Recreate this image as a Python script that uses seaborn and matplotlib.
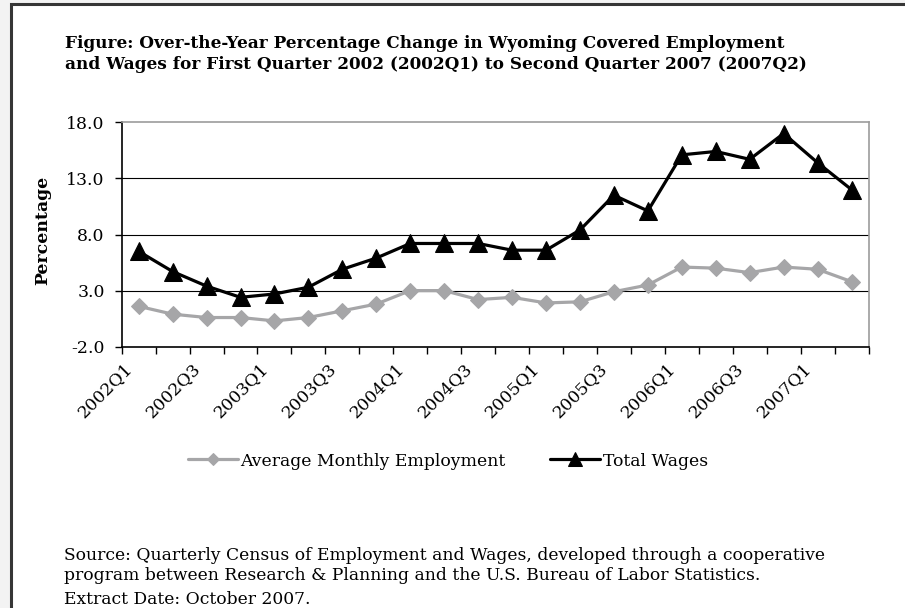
import matplotlib
matplotlib.use("Agg")
import matplotlib.pyplot as plt
import matplotlib.transforms as mtrans
import seaborn as sns
import numpy as np
import pandas as pd
from matplotlib.patches import Rectangle
from matplotlib.ticker import FixedLocator, FormatStrFormatter

quarters = ["2002Q1", "2002Q2", "2002Q3", "2002Q4", "2003Q1", "2003Q2", "2003Q3", "2003Q4",
            "2004Q1", "2004Q2", "2004Q3", "2004Q4", "2005Q1", "2005Q2", "2005Q3", "2005Q4",
            "2006Q1", "2006Q2", "2006Q3", "2006Q4", "2007Q1", "2007Q2"]
employment = [1.6, 0.9, 0.6, 0.6, 0.3, 0.6, 1.2, 1.8, 3.0, 3.0, 2.2, 2.4, 1.9, 2.0, 2.9, 3.5,
              5.1, 5.0, 4.6, 5.1, 4.9, 3.8]
wages = [6.5, 4.7, 3.4, 2.4, 2.7, 3.3, 4.9, 5.9, 7.2, 7.2, 7.2, 6.6, 6.6, 8.4, 11.5, 10.1,
         15.1, 15.4, 14.7, 17.0, 14.4, 12.0]
yticks = [-2.0, 3.0, 8.0, 13.0, 18.0]
series_names = ["Average Monthly Employment", "Total Wages"]

title = ("Figure: Over-the-Year Percentage Change in Wyoming Covered Employment\n"
         "and Wages for First Quarter 2002 (2002Q1) to Second Quarter 2007 (2007Q2)")
source1 = "Source: Quarterly Census of Employment and Wages, developed through a cooperative"
source2 = "program between Research & Planning and the U.S. Bureau of Labor Statistics."
extract = "Extract Date: October 2007."

sns.set_style("white")
plt.rcParams["font.family"] = ["DejaVu Serif"]
plt.rcParams["text.color"] = "black"
plt.rcParams["xtick.color"] = "black"
plt.rcParams["ytick.color"] = "black"
plt.rcParams["xtick.labelcolor"] = "black"
plt.rcParams["ytick.labelcolor"] = "black"

FS = 12.4

W, H = 905, 608
fig = plt.figure(figsize=(W / 100, H / 100), dpi=100)
fig.patch.set_facecolor("#f3f3f3")

def fx(px):
    return px / W

def fy(py):
    return 1 - py / H

# outer frame
frame = Rectangle((fx(10.5), fy(620)), fx(910) - fx(10.5), fy(4.5) - fy(620),
                  transform=fig.transFigure, facecolor="white", edgecolor="#363636",
                  linewidth=2.2, zorder=-5)
fig.patches.append(frame)

left, right, top, bottom = 121.7, 868.5, 122.3, 346.7
ax = fig.add_axes([fx(left), fy(bottom), fx(right) - fx(left), (bottom - top) / H])
ax.set_facecolor("white")

df = pd.DataFrame({"idx": np.arange(len(quarters)), "quarter": quarters,
                   "emp": employment, "wages": wages})

gray = "#a6a6a8"
sns.lineplot(data=df, x="idx", y="emp", ax=ax, color=gray, linewidth=2.3,
             marker="D", markersize=8.0, markeredgecolor=gray, markerfacecolor=gray,
             label=series_names[0], legend=False, zorder=3)
sns.lineplot(data=df, x="idx", y="wages", ax=ax, color="black", linewidth=2.3,
             marker="^", markersize=12.5, markeredgecolor="black", markerfacecolor="black",
             label=series_names[1], legend=False, zorder=4)

ax.set_xlim(-0.5, len(quarters) - 0.5)
ax.set_ylim(yticks[0], yticks[-1])
ax.set_xlabel("")
ax.set_ylabel("")

# y axis
ax.yaxis.set_major_locator(FixedLocator(yticks))
ax.yaxis.set_major_formatter(FormatStrFormatter("%.1f"))
ax.tick_params(axis="y", which="major", direction="out", length=5.2, width=1.0,
               color="black", labelsize=FS, pad=7, left=True)
for y in yticks[1:-1]:
    ax.axhline(y, color="black", linewidth=0.8, zorder=1)

# x axis: labels at category centres (every second one), tick marks at boundaries
ax.set_xticks(np.arange(0, len(quarters), 2))
ax.set_xticklabels(quarters[::2])
ax.set_xticks(np.arange(-0.5, len(quarters), 1), minor=True)
ax.tick_params(axis="x", which="major", length=0, labelsize=FS, pad=14)
ax.tick_params(axis="x", which="minor", direction="out", length=5.2, width=1.0,
               color="black", bottom=True)
shift = mtrans.ScaledTranslation(-9 / 100, 0, fig.dpi_scale_trans)
for lab in ax.get_xticklabels():
    lab.set_rotation(45)
    lab.set_ha("right")
    lab.set_va("center")
    lab.set_rotation_mode("anchor")
    lab.set_transform(lab.get_transform() + shift)

for side in ["left", "bottom"]:
    ax.spines[side].set_color("black")
    ax.spines[side].set_linewidth(1.2)
for side in ["top", "right"]:
    ax.spines[side].set_color("#9c9c9c")
    ax.spines[side].set_linewidth(1.2)
ax.grid(False)

# y axis title
fig.text(fx(43), fy(230), "Percentage", rotation=90, ha="center", va="center",
         fontsize=FS, fontweight="bold")

# title
fig.text(fx(65), fy(54), title, ha="left", va="center", fontsize=12.2,
         fontweight="bold", linespacing=1.25)

# legend
handles = ax.get_lines()[:2]
fig.legend(handles, series_names, loc="center", bbox_to_anchor=(fx(448), fy(461)),
           ncol=2, frameon=False, fontsize=FS, handlelength=2.9, handletextpad=0.15,
           columnspacing=2.6, numpoints=1, markerscale=0.75)

# source notes
fig.text(fx(64), fy(555), source1, ha="left", va="center", fontsize=12.3)
fig.text(fx(64), fy(576), source2, ha="left", va="center", fontsize=12.3)
fig.text(fx(64), fy(599), extract, ha="left", va="center", fontsize=12.3)

fig.savefig("out.png", dpi=100, facecolor=fig.get_facecolor())
